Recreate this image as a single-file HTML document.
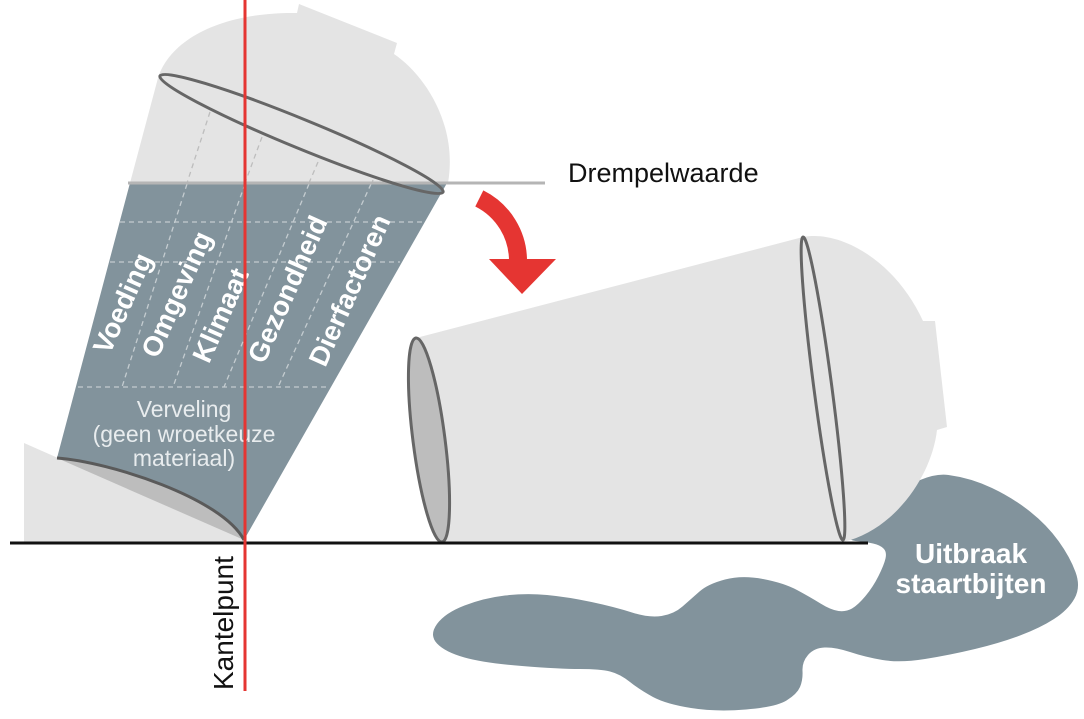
<!DOCTYPE html>
<html>
<head>
<meta charset="utf-8">
<style>
html,body{margin:0;padding:0;background:#fff;}
svg{display:block;}
text{font-family:"Liberation Sans",Arial,sans-serif;}
</style>
</head>
<body>
<svg width="1084" height="719" viewBox="0 0 1084 719" xmlns="http://www.w3.org/2000/svg">
<rect width="1084" height="719" fill="#ffffff"/>

<!-- ===== Tilted bucket ===== -->
<path d="M24,443 L244,540 L244,543 L24,543 Z" fill="#e4e4e4"/>
<path d="M57,458 C110,462 222,498 244,540 L57,458 Z" fill="#bdbdbd"/>
<path d="M130,183 L447,183 L244,540 C222,498 110,462 57,458 Z" fill="#82939c"/>
<path d="M57,458 C110,462 222,498 244,540" fill="none" stroke="#5a5a5a" stroke-width="3"/>
<path d="M130,183 L158,78 C170,40 220,12 297,13 L299,4 L397,43 L394,54 C425,75 458,125 448,183 Z" fill="#e4e4e4"/>

<g stroke="#bdbdbd" stroke-width="1.3" stroke-dasharray="5,4" fill="none">
  <line x1="210" y1="112" x2="187" y2="183"/>
  <line x1="262" y1="137" x2="245" y2="183"/>
  <line x1="318" y1="162" x2="309" y2="183"/>
  <line x1="373" y1="180" x2="372" y2="183"/>
</g>
<g stroke="#c4ccd0" stroke-width="1.3" stroke-dasharray="5,4" fill="none">
  <line x1="187" y1="184" x2="122" y2="387"/>
  <line x1="245" y1="184" x2="173" y2="387"/>
  <line x1="309" y1="184" x2="224" y2="387"/>
  <line x1="371" y1="184" x2="278" y2="387"/>
  <line x1="120" y1="222" x2="424" y2="222"/>
  <line x1="110" y1="262" x2="400" y2="262"/>
  <line x1="78" y1="387" x2="328" y2="387"/>
</g>

<line x1="128" y1="183" x2="545" y2="183" stroke="#b5b5b5" stroke-width="3"/>
<text x="568" y="182" font-size="27" fill="#111">Drempelwaarde</text>

<ellipse cx="301.5" cy="134" rx="153" ry="14.5" transform="rotate(22.3 301.5 134)" fill="none" stroke="#666" stroke-width="3"/>

<g font-size="27.5" font-weight="bold" fill="#ffffff" text-anchor="middle">
  <text transform="translate(122,303) rotate(-66)" dy="10">Voeding</text>
  <text transform="translate(176,294) rotate(-66)" dy="10">Omgeving</text>
  <text transform="translate(220,315) rotate(-66)" dy="10">Klimaat</text>
  <text transform="translate(287,289) rotate(-66)" dy="10">Gezondheid</text>
  <text transform="translate(349,290) rotate(-66)" dy="10">Dierfactoren</text>
</g>

<g font-size="23" fill="#e8ecee" text-anchor="middle">
  <text x="184" y="417">Verveling</text>
  <text x="184" y="442">(geen wroetkeuze</text>
  <text x="184" y="466">materiaal)</text>
</g>

<!-- Red arrow -->
<path d="M479.3,198.4 A70,70 0 0 1 518,262" fill="none" stroke="#e53532" stroke-width="18"/>
<polygon points="489,259 556,259 522,294" fill="#e53532"/>

<!-- Puddle -->
<path fill="#82939c" d="M852.5,530 Q860,520 893,496 Q926,472 948.5,475 Q971,478 992,488 Q1013,498 1030,511.5 Q1047,525 1058.5,541 Q1070,557 1075.5,572 Q1081,587 1074.5,598.5 Q1068,610 1054,619 Q1040,628 1020,635.5 Q1000,643 975,649 Q950,655 925,659 Q900,663 882.5,660 Q865,657 850,652 Q835,647 824.5,647.5 Q814,648 808,655 Q802,662 802.5,671 Q803,680 800,687 Q797,694 786.5,700.5 Q776,707 746,709.5 Q716,712 691,708 Q666,704 653,697 Q640,690 630,682 Q620,674 610,671.5 Q600,669 580,669 Q560,669 522,666 Q484,663 464.5,657.5 Q445,652 437,643.5 Q429,635 437,624 Q445,613 464.5,605.5 Q484,598 505,595.5 Q526,593 547,595 Q568,597 591.5,602 Q615,607 632,612.5 Q649,618 661.5,616 Q674,614 682.5,606.5 Q691,599 699.5,591.5 Q708,584 725,579.5 Q742,575 763,579 Q784,583 797,590 Q810,597 820.5,603.5 Q831,610 838.5,611 Q846,612 852,608.5 Q858,605 865.5,596 Q873,587 878.5,576 Q884,565 885.5,558.5 Q887,552 883.5,548.5 Q880,545 873,543.5 Q866,542 855.5,541 Q845,540 852.5,530 Z"/>

<g font-size="28" font-weight="bold" fill="#ffffff" text-anchor="middle">
  <text x="971" y="563">Uitbraak</text>
  <text x="971" y="593">staartbijten</text>
</g>

<!-- Lying bucket -->
<path d="M416,338 L803,237 C840,230 895,260 923,321 L935,321 L947,427 L937,430 C932,475 895,530 843,542 L442,542 Z" fill="#e4e4e4"/>
<ellipse cx="429" cy="440" rx="16" ry="102.8" transform="rotate(-7.3 429 440)" fill="#bdbdbd" stroke="#666" stroke-width="3"/>
<ellipse cx="823" cy="388.5" rx="9" ry="152.8" transform="rotate(-7.5 823 388.5)" fill="none" stroke="#666" stroke-width="3"/>

<line x1="10" y1="543" x2="868" y2="543" stroke="#111" stroke-width="3"/>

<text transform="translate(233,690) rotate(-90)" font-size="28" fill="#111">Kantelpunt</text>

<line x1="245" y1="0" x2="245" y2="691" stroke="#e53532" stroke-width="3"/>
</svg>
</body>
</html>
